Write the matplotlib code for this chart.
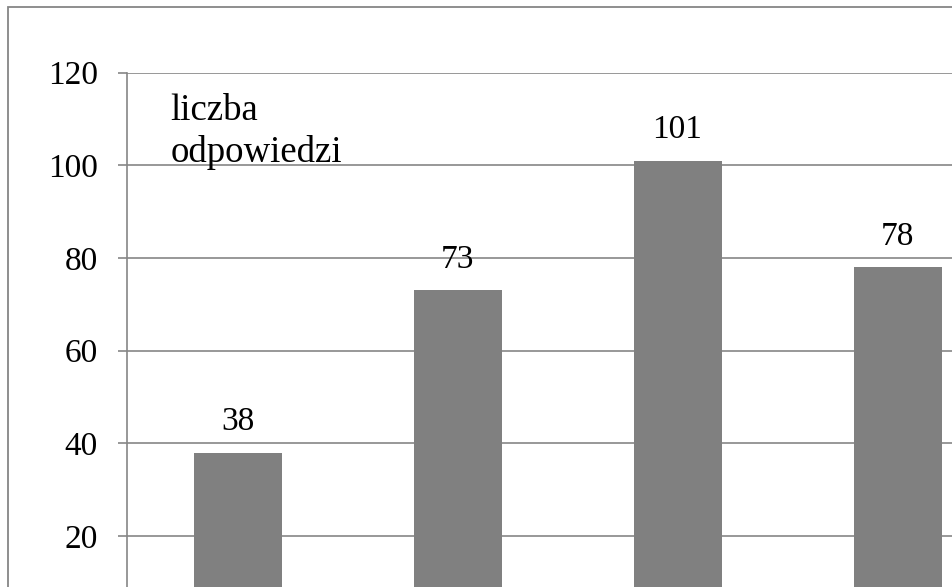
import matplotlib.pyplot as plt
from matplotlib.patches import Rectangle

# values
values = [38, 73, 101, 78]
positions = [0, 1, 2, 3]
y_ticks = [20, 40, 60, 80, 100, 120]
axis_label = 'liczba\nodpowiedzi'

plt.rcParams['font.family'] = ['Liberation Serif', 'DejaVu Serif']

fig = plt.figure(figsize=(9.53, 5.87), dpi=100)

# outer chart border (runs past the cropped right/bottom edges)
fig.patches.append(Rectangle((8 / 953, -0.5), 2.0, 1.5 - 7 / 587,
                             transform=fig.transFigure, fill=False,
                             edgecolor='#868686', linewidth=1.3))

# plot area: 0 sits below the figure edge, right side is cut off too
ax = fig.add_axes([127.5 / 953, 1 - 628.7 / 587, 880 / 953, 556 / 587])
ax.bar(positions, values, width=0.4, color='#808080', zorder=3)

ax.set_xlim(-0.5, 3.5)
ax.set_ylim(0, 120)
ax.set_yticks(y_ticks)
ax.set_yticklabels([str(t) for t in y_ticks])
ax.set_xticks([])
ax.yaxis.grid(True, color='#868686', linewidth=1.2, zorder=0)
ax.tick_params(axis='y', length=6.5, width=1.2, color='#868686',
               pad=15, labelsize=24)

for s in ['top', 'right', 'bottom']:
    ax.spines[s].set_visible(False)
ax.spines['left'].set_color('#868686')
ax.spines['left'].set_linewidth(1.2)

for x, v in zip(positions, values):
    ax.annotate(str(v), (x, v), xytext=(0, 16.3), textcoords='offset points',
                ha='center', va='baseline', fontsize=24)

fig.text(170.5 / 953, 1 - 161.7 / 587, axis_label, ha='left', va='baseline',
         fontsize=26.5, linespacing=1.25)

fig.savefig('out.png', dpi=100)
